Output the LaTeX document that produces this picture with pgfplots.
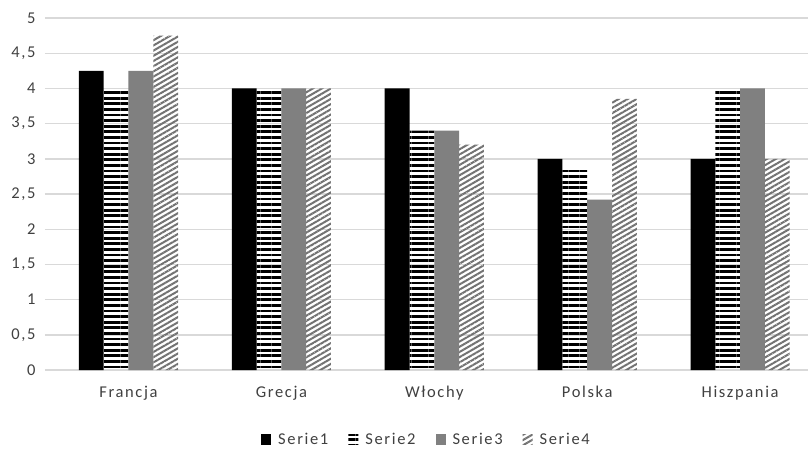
\documentclass[border=0pt]{standalone}
\usepackage{fontspec}
\setmainfont{Carlito}[LetterSpace=10]
\usepackage{pgfplots}
\pgfplotsset{compat=1.18}
\usetikzlibrary{patterns.meta}
\definecolor{gridc}{RGB}{217,217,217}
\definecolor{barg}{RGB}{128,128,128}
\begin{document}
\begin{tikzpicture}
\useasboundingbox (-45pt,-81pt) rectangle (763pt,370pt);
\begin{axis}[
  scale only axis, width=763pt, height=352pt,
  ybar=0pt, bar width=24.8pt,
  xmin=-0.546, xmax=4.444, ymin=0, ymax=5,
  xtick={0,1,2,3,4},
  xticklabels={Francja,Grecja,Włochy,Polska,Hiszpania},
  ytick={0,0.5,...,5},
  /pgf/number format/.cd, fixed, use comma, precision=1, assume math mode=true,
  /pgfplots/.cd,
  axis line style={draw=none},
  major tick length=0pt,
  ymajorgrids, grid style={gridc, line width=1.4pt},
  tick label style={font=\fontsize{16.5}{18}\selectfont, text=black!75},
  yticklabel style={xshift=-6pt},
  xticklabel style={yshift=-13pt},
  legend style={at={(0.5,-0.198)}, anchor=center, draw=none, legend columns=4,
    font=\fontsize{16.5}{18}\selectfont, text=black!75,
    /tikz/every odd column/.append style={column sep=5pt},
    /tikz/every even column/.append style={column sep=18pt}},
  legend image code/.code={\draw[#1, draw=none] (2pt,-5pt) rectangle (12pt,5.5pt);},
]
\addplot[fill=black, draw=none] coordinates {(0,4.25) (1,4) (2,4) (3,3) (4,3)};
\addplot[pattern={Lines[angle=0, distance=5.6pt, line width=2.8pt]}, pattern color=black, draw=none] coordinates {(0,4) (1,4) (2,3.4) (3,2.85) (4,4)};
\addplot[fill=barg, draw=none] coordinates {(0,4.25) (1,4) (2,3.4) (3,2.42) (4,4)};
\addplot[pattern={Lines[angle=30, distance=4.5pt, line width=2pt]}, pattern color=black!55, draw=none] coordinates {(0,4.75) (1,4) (2,3.2) (3,3.85) (4,3)};
\legend{Serie1,Serie2,Serie3,Serie4}
\end{axis}
\end{tikzpicture}
\end{document}
